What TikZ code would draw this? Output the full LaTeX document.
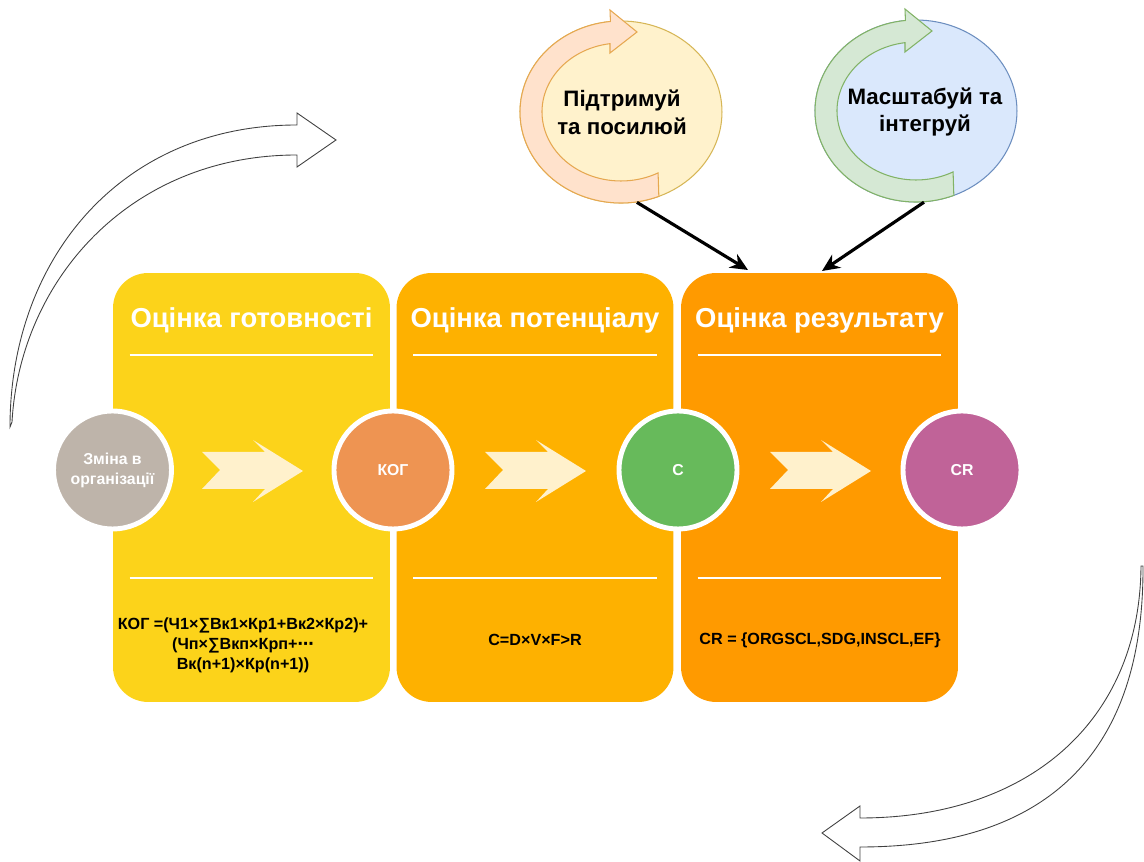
\documentclass[tikz,border=0pt]{standalone}
\usepackage{fontspec}
\setmainfont{Liberation Sans}
\newfontfamily\dejavu{DejaVu Sans}
\usetikzlibrary{shapes.geometric,arrows.meta,positioning}

\definecolor{goldbox}{RGB}{252,211,26}
\definecolor{amberbox}{RGB}{254,177,0}
\definecolor{orangebox}{RGB}{255,154,0}
\definecolor{chevron}{RGB}{255,241,204}
\definecolor{change}{RGB}{190,180,170}
\definecolor{kogc}{RGB}{238,148,82}
\definecolor{capc}{RGB}{103,186,91}
\definecolor{crc}{RGB}{192,99,152}
\definecolor{supfill}{HTML}{FFF2CC}
\definecolor{supline}{HTML}{D6B656}
\definecolor{suparrow}{HTML}{FFE2CC}
\definecolor{supaline}{HTML}{E6A850}
\definecolor{intfill}{HTML}{DAE8FC}
\definecolor{intline}{HTML}{6C8EBF}
\definecolor{intarrow}{HTML}{D5E8D4}
\definecolor{intaline}{HTML}{82B366}

\tikzset{
  panel/.style={rounded corners=0.7cm, minimum width=5.54cm, minimum height=8.58cm, inner sep=0pt},
  title/.style={text=white, font=\bfseries\fontsize{15.6}{18}\selectfont},
  rule/.style={white, line width=1.2pt},
  stage/.style={circle, draw=white, line width=2.8pt, minimum size=2.36cm, inner sep=0pt,
    text=white, align=center, font=\bfseries\fontsize{9}{11.3}\selectfont},
  formula/.style={align=center, font=\bfseries\fontsize{9.2}{11.3}\selectfont},
  chev/.style={fill=chevron},
  bubble/.style={ellipse, minimum width=4.04cm, minimum height=3.64cm, inner sep=0pt, line width=0.6pt},
  looptext/.style={align=center, font=\bfseries\fontsize{12.7}{15.9}\selectfont},
  push/.style={-{Stealth[length=10pt,width=9pt]}, line width=1.8pt},
  bigarrow/.style={draw=black!75, fill=white, line width=0.5pt}
}

% round arrow inside an ellipse node: #1 node, #2 fill, #3 line
\newcommand\cyclearrow[3]{%
  \filldraw[fill=#2, draw=#3, line width=0.6pt]
    ([shift={(-68:101 and 91)}]#1.center) arc[start angle=-68, end angle=-264, x radius=101, y radius=91]
    -- ([shift={(-11,102)}]#1.center) -- ([shift={(16,80)}]#1.center) -- ([shift={(-11,59)}]#1.center)
    -- ([shift={(98:79 and 69)}]#1.center) arc[start angle=98, end angle=298, x radius=79, y radius=69]
    -- cycle;
}

\begin{document}
\begin{tikzpicture}[x=0.02cm, y=0.02cm]
\useasboundingbox (0,0) rectangle (1144,862);

% stage panels
\node[panel, fill=goldbox] (ready) at (251.5,374.5) {};
\node[panel, fill=amberbox] (pot) at (535,374.5) {};
\node[panel, fill=orangebox] (res) at (819.5,374.5) {};

\node[title] (readyt) at (251.5,542) {Оцінка готовності};
\node[title] (pott) at (535,542) {Оцінка потенціалу};
\node[title] (rest) at (819.5,542) {Оцінка результату};

\foreach \p in {ready,pot,res} {
  \draw[rule] ([xshift=0.34cm,yshift=-1.64cm]\p.north west) -- ([xshift=-0.34cm,yshift=-1.64cm]\p.north east);
  \draw[rule] ([xshift=0.34cm,yshift=2.48cm]\p.south west) -- ([xshift=-0.34cm,yshift=2.48cm]\p.south east);
}

% chevrons between the circles
\foreach \dx in {0,283,568}
  \fill[chev, shift={(\dx,0)}] (202,410) -- (265,410) -- (253,422) -- (303,391)
    -- (253,360) -- (265,373) -- (202,373) -- (220,392) -- cycle;

% stage circles
\node[stage, fill=change] (chg) at (112.5,392) {Зміна в\\організації};
\node[stage, fill=kogc] (kog) at (393,392) {КОГ};
\node[stage, fill=capc] (cap) at (678,392) {C};
\node[stage, fill=crc] (cr) at (962,392) {CR};

% formulas
\node[formula] (kogf) at (243,217) {КОГ =(Ч1×∑Вк1×Кр1+Вк2×Кр2)+\\(Чп×∑Вкп×Крп+{\dejavu ⋯}\\Вк(n+1)×Кр(n+1))};
\node[formula] (capf) at (535,222) {C=D×V×F>R};
\node[formula] (crf) at (820,222) {CR = \{ORGSCL,SDG,INSCL,EF\}};

% loops on top
\node[bubble, fill=supfill, draw=supline] (sup) at (621,750) {};
\node[bubble, fill=intfill, draw=intline] (int) at (916,751) {};
\cyclearrow{sup}{suparrow}{supaline}
\cyclearrow{int}{intarrow}{intaline}
\node[looptext] (supt) at (622,750) {Підтримуй\\та посилюй};
\node[looptext] (intt) at (925,750) {Масштабуй та\\інтегруй};

\coordinate (resin) at (748,592);
\draw[push] (sup.-80) -- (resin);
\draw[push, shorten >=1.7pt] (int.-85) -- (res.north);

% big hollow arrows
\filldraw[bigarrow] (10,435) .. controls (10,602) and (120,737) .. (297,737)
  -- (297,749) -- (336,722) -- (297,695) -- (297,707)
  .. controls (130,707) and (20,582) .. (12,440) -- cycle;
\filldraw[bigarrow] (1143,296) .. controls (1144,102) and (1040,15) .. (860,15)
  -- (860,1) -- (822,29) -- (860,56) -- (860,44)
  .. controls (1030,44) and (1140,142) .. (1141,296) -- cycle;
\end{tikzpicture}
\end{document}
